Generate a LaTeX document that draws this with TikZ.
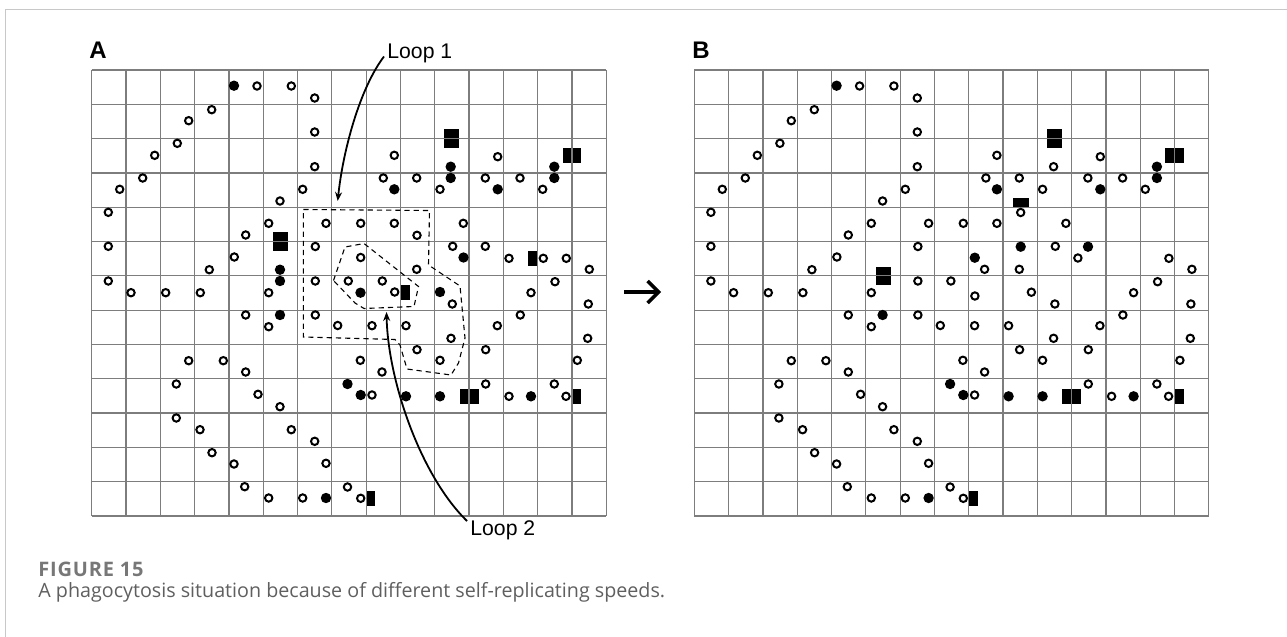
\documentclass[tikz,border=0pt]{standalone}
\usepackage{fontspec}
\setmainfont{Liberation Sans}
\newfontfamily\capfont{Open Sans}
\usetikzlibrary{arrows.meta}
\definecolor{gridgray}{RGB}{125,125,125}
\definecolor{framegray}{RGB}{200,200,200}
\definecolor{capgray}{RGB}{95,95,95}
\begin{document}
\begin{tikzpicture}[x=0.5pt,y=-0.5pt,
  gridline/.style={draw=gridgray,line width=0.6pt},
  odot/.style={draw=black,fill=white,line width=1pt},
  fdot/.style={fill=black},
  blk/.style={fill=black},
  loopline/.style={draw=black,line width=0.55pt,dash pattern=on 2.6pt off 2pt},
  callout/.style={draw=black,line width=0.9pt,-{Stealth[length=4.5pt,width=3.5pt]}},
  lbl/.style={font=\fontsize{10.6}{13}\selectfont,inner sep=0pt},
  panel/.style={font=\fontsize{12}{14}\selectfont\bfseries,inner sep=0pt},
  captext/.style={font=\capfont\fontsize{9.85}{12}\selectfont,text=capgray,inner sep=0pt},
  capno/.style={font=\capfont\bfseries\fontsize{10}{12}\selectfont\addfontfeature{LetterSpace=4},text=capgray!85,inner sep=0pt}]
\useasboundingbox (0,0) rectangle (1287,637);
\draw[draw=framegray,line width=0.7pt] (5.5,637) -- (5.5,9.5) -- (1287,9.5);

\def\CO{257/86, 291.3/86, 314.7/98, 211.7/109.7, 188.7/120.7, 314.7/132, 177.3/143.3, 154.7/155.3, 314.7/166.7, 142.7/178, 302.7/189.3, 119.7/189.3, 280/201, 108.3/212.3, 268.7/223.3, 326/223.3, 245.7/235, 108.3/246.3, 315.3/246.5, 234.3/257, 209.3/269.7, 108.3/281, 315.3/281,
131/292.7, 165.7/292.7, 200.3/292.7, 268.7/292.7, 245.7/315, 315.3/315, 268.7/326.7, 337.7/325.5, 188.7/360.7, 223.3/360.7, 245.7/372, 176.3/384, 258/394.3, 280/406.7, 176.3/418, 200/429.7, 291.3/429.7, 314.7/441.3, 212/452.7, 234/464, 326/463.3, 244.7/486.7, 347.5/487, 268.7/498, 302.7/498,
394.3/155.3, 497.7/156.7, 383.3/178, 416.7/178, 485.3/178, 520/178, 440/189.3, 542.7/189.3, 360.7/223.3, 394.3/223.3, 463.3/223.3, 452.7/246.3, 566.3/258.3, 416.7/269.3, 589.3/269.3, 348.3/281, 555/281.7,
452.3/304, 531/292.7, 588.3/304, 372/325.7, 406/325.7, 497.3/325.7, 520.3/315, 451/338.3, 587.7/338.3, 417/349.7, 485.7/349.7, 360.3/360.3, 440/360.3, 577.3/360.3, 382/372, 485.7/384, 554.3/384, 372/395, 509/396.3, 566/396.3, 360.7/498.3}
\def\CF{234/85.7, 554.3/166.7, 554.3/178, 394.3/189.3, 497.7/189.3, 280/315, 347.5/384, 360.7/395, 406/396.3, 440/396.3, 531/396.3, 326/498}
\def\CB{444/129/459.3/148, 562.6/148.3/581.2/162.7, 459.5/388.5/478.5/403.5, 571.9/388.5/581.2/403.5, 366.1/490.7/375.4/506}
\def\AO{417/235.3, 485.3/246.3, 360.7/257.5, 509/258.3, 543.3/258.3, 382.3/281, 394.7/292}
\def\AF{280/269.7, 280/281, 450.7/166.7, 450.7/178, 463.5/257.5, 360.5/292.7, 440/292}
\def\AB{272.7/232/288/251, 528.3/250.7/537.6/266, 400.4/285/409.7/300}
\def\BO{451/166.7, 418.1/212.5, 475.3/258, 382/269.3, 372.3/296, 428.8/292.2}
\def\BF{418.1/246.7, 485.4/246.7, 372.2/257.7}
\def\BB{273.2/266.5/288.5/285.1, 410.4/197.9/426/207.2}

% ---------- panel A ----------
\begin{scope}
  \foreach \a/\b/\c/\d in \CB {\fill[blk] (\a,\b) rectangle (\c,\d);}
  \foreach \a/\b/\c/\d in \AB {\fill[blk] (\a,\b) rectangle (\c,\d);}
  \foreach \i in {0,...,15} {\draw[gridline] ({91.7+34.3*\i},70) -- ({91.7+34.3*\i},515.9);}
  \foreach \j in {0,...,13} {\draw[gridline] (91.7,{70+34.3*\j}) -- (606.2,{70+34.3*\j});}
  \draw[loopline] (303.3,209.5) -- (429.5,210.5) -- (428.5,265) -- (460,286) -- (465,338) -- (458.5,363) -- (451,375) -- (407,369) -- (400,345) -- (395,339.5) -- (303.3,337) -- cycle;
  \draw[loopline] (333.5,280.5) -- (345,247) -- (364,243.5) -- (418.5,286.5) -- (414,306.5) -- (364,308.5) -- (355,303) -- cycle;
  \foreach \x/\y in \CO {\draw[odot] (\x,\y) circle[radius=1.85pt];}
  \foreach \x/\y in \AO {\draw[odot] (\x,\y) circle[radius=1.85pt];}
  \foreach \x/\y in \CF {\fill[fdot] (\x,\y) circle[radius=2.6pt];}
  \foreach \x/\y in \AF {\fill[fdot] (\x,\y) circle[radius=2.6pt];}
\end{scope}

% ---------- panel B ----------
\begin{scope}[shift={(602.6,0)}]
  \foreach \a/\b/\c/\d in \CB {\fill[blk] (\a,\b) rectangle (\c,\d);}
  \foreach \a/\b/\c/\d in \BB {\fill[blk] (\a,\b) rectangle (\c,\d);}
  \foreach \i in {0,...,15} {\draw[gridline] ({91.7+34.3*\i},70) -- ({91.7+34.3*\i},515.9);}
  \foreach \j in {0,...,13} {\draw[gridline] (91.7,{70+34.3*\j}) -- (606.2,{70+34.3*\j});}
  \foreach \x/\y in \CO {\draw[odot] (\x,\y) circle[radius=1.85pt];}
  \foreach \x/\y in \BO {\draw[odot] (\x,\y) circle[radius=1.85pt];}
  \foreach \x/\y in \CF {\fill[fdot] (\x,\y) circle[radius=2.6pt];}
  \foreach \x/\y in \BF {\fill[fdot] (\x,\y) circle[radius=2.6pt];}
\end{scope}

% ---------- labels ----------
\node[panel,anchor=base west] (pa) at (89,58.3) {A};
\node[panel,anchor=base west] (pb) at (692,58.3) {B};
\node[lbl,anchor=base west] (loop1) at (387,58.3) {Loop 1};
\node[lbl,anchor=base west] (loop2) at (470,535.5) {Loop 2};
\coordinate (l1s) at (384,56.5);
\coordinate (l1t) at (337.7,201);
\coordinate (l2s) at (467,521);
\coordinate (l2t) at (386.5,312);
\draw[callout] (l1s) .. controls (360,88) and (343,150) .. (l1t);
\draw[callout] (l2s) .. controls (420,475) and (388,380) .. (l2t);

\coordinate (ma) at (624,292);
\coordinate (mb) at (661,292);
\draw[line width=1.7pt,-{Straight Barb[length=5.5pt,width=11pt]}] (ma) -- (mb);

\node[capno,anchor=base west] (figno) at (38,576) {FIGURE 15};
\node[captext,anchor=base west] (capt) at (38,597) {A phagocytosis situation because of different self-replicating speeds.};
\end{tikzpicture}
\end{document}
